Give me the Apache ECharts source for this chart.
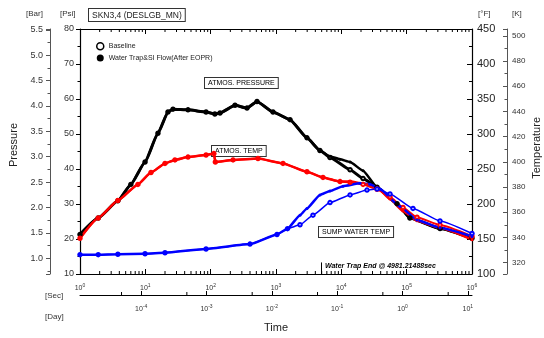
<!DOCTYPE html>
<html>
<head>
<meta charset="utf-8">
<script src="https://cdn.jsdelivr.net/npm/echarts@6/dist/echarts.min.js"></script>
<style>
  html, body { margin: 0; padding: 0; background: #fff; }
  #chart { width: 544px; height: 338px; }
</style>
</head>
<body>
<div id="chart"></div>
<script>
// 轴范围
const psiMin = 10, psiMax = 80;
const fMin = 100, fMax = 450;
const psiPerBar = 14.5038;
const secPerDay = 86400;
const trapEndSec = 4981.21488;

// 压力 (psi)
const pressSecBase = [1, 1.9, 3.8, 6.0, 9.9, 15.6, 22.2, 26.5, 45, 85, 116, 139, 236, 360, 512, 900, 1640, 2980, 4700, 6700, 13600, 21500, 35200, 71200, 112000, 324000, 1000000];
const pressPsiBase = [21.3, 26.0, 30.9, 35.6, 42.0, 50.2, 56.3, 57.1, 56.9, 56.3, 55.7, 56.0, 58.2, 57.4, 59.3, 56.3, 54.1, 48.9, 45.3, 43.3, 39.8, 37.3, 34.8, 30.1, 26.0, 23.0, 20.2];
const pressSecTrap = [1, 1.9, 3.8, 6.0, 9.9, 15.6, 22.2, 26.5, 45, 85, 116, 139, 236, 360, 512, 900, 1640, 2980, 4700, 6700, 9500, 13600, 21500, 35200, 71200, 112000, 324000, 1000000];
const pressPsiTrap = [21.3, 26.0, 30.9, 35.6, 42.0, 50.2, 56.3, 57.1, 56.9, 56.3, 55.7, 56.0, 58.2, 57.4, 59.3, 56.3, 54.1, 48.9, 45.3, 43.6, 42.8, 42.0, 39.5, 34.8, 30.1, 26.0, 23.0, 20.2];

// 大气温度 (°F)
const atmSecBase = [1, 1.9, 3.8, 7.7, 12.2, 20, 28.4, 45, 85, 112, 118, 220, 530, 1280, 2980, 5240, 9550, 13600, 21500, 35200, 55600, 87900, 144000, 324000, 1000000];
const atmFBase = [151, 180, 205, 228, 245, 258, 263, 267, 270, 272, 260, 263, 265, 258, 246, 238, 232, 231, 228, 221, 210, 195, 181, 170, 154];
const atmSecTrap = [1, 1.9, 3.8, 7.7, 12.2, 20, 28.4, 45, 85, 112, 118, 220, 530, 1280, 2980, 5240, 9550, 13600, 24700, 35200, 55600, 87900, 144000, 324000, 1000000];
const atmFTrap = [151, 180, 205, 228, 245, 258, 263, 267, 270, 272, 260, 263, 265, 258, 246, 238, 232, 232, 228, 224, 207, 190, 176, 166, 149];

// 集水坑水温 (°F)
const sumpSecBase = [1, 1.9, 3.8, 9.9, 20, 85, 400, 1036, 1500, 2330, 3680, 6710, 13600, 24700, 35200, 55600, 125000, 324000, 1000000];
const sumpFBase = [127.6, 127.6, 128.2, 128.9, 130.3, 135.8, 142.7, 156.5, 164.8, 170.3, 184.1, 202.0, 213.0, 219.9, 221.3, 214.4, 193.7, 175.8, 157.9];
const sumpSecTrap = [1, 1.9, 3.8, 9.9, 20, 85, 400, 1036, 1500, 2330, 2980, 4715, 6710, 10600, 19300, 27500, 39100, 79100, 144000, 324000, 1000000];
const sumpFTrap = [127.6, 127.6, 128.2, 128.9, 130.3, 135.8, 142.7, 156.5, 164.8, 184.1, 193.7, 213.0, 218.5, 225.4, 229.5, 228.2, 221.3, 196.5, 177.2, 166.1, 153.7];

// 刻度
const secDecades = [1, 10, 100, 1e3, 1e4, 1e5];
const minorSteps = [2, 3, 4, 5, 6, 7, 8, 9];
const dayMinorTicks = [5e-5, 5e-4, 5e-3, 5e-2, 5e-1, 5];

const FONT = 'Liberation Sans, Arial, sans-serif';
const BASE_NAME = 'Baseline';
const TRAP_NAME = 'Water Trap&SI Flow(After EOPR)';

function zip(xs, ys) {
  return xs.map((x, i) => [x, ys[i]]);
}
function fToK(f) {
  return (f - 32) * 5 / 9 + 273.15;
}
function expLabel(v) {
  return '{b|10}{s|' + Math.round(Math.log10(v)) + '}';
}
const expRich = {
  b: { fontSize: 7, color: '#333', lineHeight: 10, fontFamily: FONT },
  s: { fontSize: 5, color: '#333', lineHeight: 5, verticalAlign: 'top', fontFamily: FONT }
};

function lineSeries(name, xs, ys, color, yIdx, open, width) {
  return {
    name: name,
    type: 'line',
    xAxisIndex: 0,
    yAxisIndex: yIdx,
    data: zip(xs, ys),
    smooth: 0.15,
    smoothMonotone: 'x',
    symbol: open ? 'emptyCircle' : 'circle',
    symbolSize: open ? 3.5 : 3,
    showSymbol: true,
    lineStyle: { color: color, width: width },
    itemStyle: { color: color, borderColor: color, borderWidth: open ? 1 : 0 },
    silent: true
  };
}

const secMinor = [];
secDecades.forEach(d => minorSteps.forEach(m => secMinor.push(d * m)));

const option = {
  animation: false,
  textStyle: { fontFamily: FONT },
  grid: { left: 80, right: 72, top: 29, bottom: 55, containLabel: false },
  legend: {
    orient: 'vertical',
    left: 91,
    top: 37,
    itemWidth: 7,
    itemHeight: 7,
    itemGap: 4,
    selectedMode: false,
    textStyle: { fontSize: 7, color: '#222', fontFamily: FONT },
    data: [
      { name: BASE_NAME, icon: 'circle', itemStyle: { color: '#fff', borderColor: '#000', borderWidth: 1.5 } },
      { name: TRAP_NAME, icon: 'circle', itemStyle: { color: '#000', borderWidth: 0 } }
    ]
  },
  xAxis: [
    {
      // 秒
      type: 'log', logBase: 10, min: 1, max: 1e6, position: 'bottom',
      axisLine: { show: true, lineStyle: { color: '#000', width: 1 } },
      axisTick: { show: true, inside: true, length: 5, lineStyle: { color: '#000' } },
      axisLabel: { margin: 9, formatter: expLabel, rich: expRich },
      splitLine: { show: false }
    },
    {
      type: 'log', logBase: 10, min: 1, max: 1e6, position: 'top',
      axisLine: { show: true, lineStyle: { color: '#000', width: 1 } },
      axisTick: { show: true, inside: true, length: 5, lineStyle: { color: '#000' } },
      axisLabel: { show: false },
      splitLine: { show: false }
    },
    {
      // 天
      type: 'log', logBase: 10, min: 1 / secPerDay, max: 1e6 / secPerDay, position: 'bottom', offset: 21,
      axisLine: { show: true, lineStyle: { color: '#000', width: 1 } },
      axisTick: { show: true, inside: true, length: 4, lineStyle: { color: '#000' } },
      axisLabel: { margin: 9, formatter: expLabel, rich: expRich, showMinLabel: false, showMaxLabel: false },
      splitLine: { show: false },
      name: 'Time', nameLocation: 'middle', nameGap: 27,
      nameTextStyle: { fontSize: 11, color: '#222', fontFamily: FONT }
    }
  ],
  yAxis: [
    {
      // Psi
      type: 'value', position: 'left', offset: 0, min: psiMin, max: psiMax, interval: 10,
      axisLine: { show: true, lineStyle: { color: '#000', width: 1.2 } },
      axisTick: { show: true, length: 4, lineStyle: { color: '#000' } },
      minorTick: { show: true, splitNumber: 2, length: 2.5, lineStyle: { color: '#000' } },
      axisLabel: { fontSize: 9, color: '#333', margin: 6 },
      splitLine: { show: false }
    },
    {
      // Bar
      type: 'value', position: 'left', offset: 30, min: psiMin / psiPerBar, max: psiMax / psiPerBar, splitNumber: 10,
      axisLine: { show: true, lineStyle: { color: '#555', width: 1 } },
      axisTick: { show: true, length: 4, lineStyle: { color: '#555' } },
      minorTick: { show: true, splitNumber: 2, length: 2.5, lineStyle: { color: '#555' } },
      axisLabel: { fontSize: 9, color: '#333', margin: 7, showMinLabel: false, showMaxLabel: false,
        formatter: v => v.toFixed(1) },
      splitLine: { show: false }
    },
    {
      // °F
      type: 'value', position: 'right', offset: 0, min: fMin, max: fMax, interval: 50,
      axisLine: { show: true, lineStyle: { color: '#000', width: 1.2 } },
      axisTick: { show: true, inside: true, length: 5, lineStyle: { color: '#000' } },
      minorTick: { show: true, splitNumber: 2, length: 3, lineStyle: { color: '#000' } },
      axisLabel: { fontSize: 11, color: '#222', margin: 5 },
      splitLine: { show: false }
    },
    {
      // K
      type: 'value', position: 'right', offset: 35, min: fToK(fMin), max: fToK(fMax), splitNumber: 10,
      axisLine: { show: true, lineStyle: { color: '#555', width: 1 } },
      axisTick: { show: true, inside: true, length: 4, lineStyle: { color: '#555' } },
      minorTick: { show: true, splitNumber: 2, length: 2.5, lineStyle: { color: '#555' } },
      axisLabel: { fontSize: 8, color: '#333', margin: 5, showMinLabel: false, showMaxLabel: false },
      splitLine: { show: false }
    }
  ],
  series: [
    lineSeries(BASE_NAME, pressSecBase, pressPsiBase, '#000', 0, true, 3),
    Object.assign(lineSeries(TRAP_NAME, pressSecTrap, pressPsiTrap, '#000', 0, false, 2.5), {
      markLine: {
        silent: true, symbol: 'none', label: { show: false },
        lineStyle: { color: '#000', width: 1, type: 'solid' },
        data: [[{ coord: [trapEndSec, psiMin] }, { coord: [trapEndSec, 13.3] }]]
      }
    }),
    lineSeries(BASE_NAME, atmSecBase, atmFBase, '#ff0000', 2, true, 2),
    lineSeries(TRAP_NAME, atmSecTrap, atmFTrap, '#ff0000', 2, false, 2.5),
    lineSeries(BASE_NAME, sumpSecBase, sumpFBase, '#0000ff', 2, true, 1.5),
    lineSeries(TRAP_NAME, sumpSecTrap, sumpFTrap, '#0000ff', 2, false, 2.5),
    {
      // 秒轴的次刻度（上下）
      type: 'custom', xAxisIndex: 0, yAxisIndex: 0, silent: true, clip: false,
      data: secMinor.map(v => [v, psiMin]),
      renderItem(params, api) {
        const b = api.coord([api.value(0), psiMin]);
        const t = api.coord([api.value(0), psiMax]);
        return {
          type: 'group',
          children: [
            { type: 'line', shape: { x1: b[0], y1: b[1], x2: b[0], y2: b[1] - 3 }, style: { stroke: '#000', lineWidth: 1 } },
            { type: 'line', shape: { x1: t[0], y1: t[1], x2: t[0], y2: t[1] + 3 }, style: { stroke: '#000', lineWidth: 1 } }
          ]
        };
      }
    },
    {
      // 天轴的次刻度
      type: 'custom', xAxisIndex: 2, yAxisIndex: 0, silent: true, clip: false,
      data: dayMinorTicks.map(v => [v, psiMin]),
      renderItem(params, api) {
        const b = api.coord([api.value(0), psiMin]);
        return {
          type: 'line',
          shape: { x1: b[0], y1: b[1] + 21, x2: b[0], y2: b[1] + 18 },
          style: { stroke: '#000', lineWidth: 1 }
        };
      }
    }
  ],
  graphic: [
    { type: 'text', left: 26, top: 10, style: { text: '[Bar]', fontSize: 8, fill: '#333', fontFamily: FONT } },
    { type: 'text', left: 60, top: 10, style: { text: '[Psi]', fontSize: 8, fill: '#333', fontFamily: FONT } },
    { type: 'text', left: 88, top: 8, style: { text: 'SKN3,4 (DESLGB_MN)', fontSize: 8.5, fill: '#222', fontFamily: FONT,
      backgroundColor: '#fff', borderColor: '#333', borderWidth: 1, padding: [2, 3, 1, 3] } },
    { type: 'text', left: 478, top: 10, style: { text: '[°F]', fontSize: 8, fill: '#333', fontFamily: FONT } },
    { type: 'text', left: 512, top: 10, style: { text: '[K]', fontSize: 8, fill: '#333', fontFamily: FONT } },
    { type: 'text', left: 45, top: 292, style: { text: '[Sec]', fontSize: 8, fill: '#333', fontFamily: FONT } },
    { type: 'text', left: 45, top: 313, style: { text: '[Day]', fontSize: 8, fill: '#333', fontFamily: FONT } },
    { type: 'text', left: 8, top: 123, rotation: Math.PI / 2, style: { text: 'Pressure', fontSize: 11, fill: '#222', fontFamily: FONT } },
    { type: 'text', left: 531, top: 117, rotation: Math.PI / 2, style: { text: 'Temperature', fontSize: 11, fill: '#222', fontFamily: FONT } },
    { type: 'text', left: 204, top: 77, style: { text: 'ATMOS. PRESSURE', fontSize: 7, fill: '#000', fontFamily: FONT,
      backgroundColor: '#fff', borderColor: '#333', borderWidth: 1, padding: [2, 3, 1, 3] } },
    { type: 'text', left: 211, top: 145, style: { text: 'ATMOS. TEMP', fontSize: 7, fill: '#000', fontFamily: FONT,
      backgroundColor: '#fff', borderColor: '#333', borderWidth: 1, padding: [2, 3, 1, 3] } },
    { type: 'text', left: 318, top: 226, style: { text: 'SUMP WATER TEMP', fontSize: 7, fill: '#000', fontFamily: FONT,
      backgroundColor: '#fff', borderColor: '#333', borderWidth: 1, padding: [2, 3, 1, 3] } },
    { type: 'text', left: 325, top: 263, style: { text: 'Water Trap End @ ' + trapEndSec + 'sec', fontSize: 7,
      fontStyle: 'italic', fontWeight: 'bold', fill: '#000', fontFamily: FONT } }
  ]
};

const myChart = echarts.init(document.getElementById('chart'));
myChart.setOption(option);
</script>
</body>
</html>
